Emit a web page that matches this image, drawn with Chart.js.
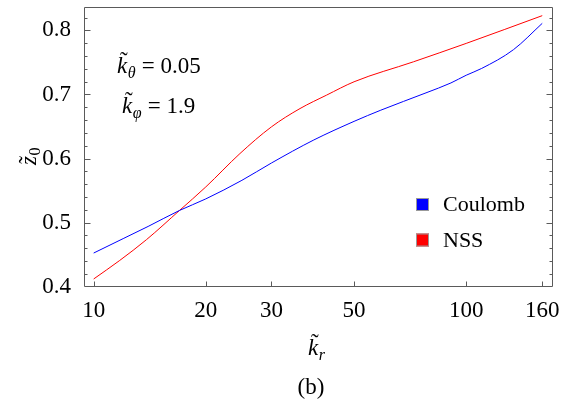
<!DOCTYPE html>
<html><head><meta charset="utf-8">
<script src="https://cdn.jsdelivr.net/npm/chart.js@4/dist/chart.umd.min.js"></script>
<style>html,body{margin:0;padding:0;background:#fff}#wrap{width:571px;height:408px;position:relative}</style>
</head><body><div id="wrap"><canvas id="c" width="571" height="408"></canvas></div>
<script>
const seriesNames = ["Coulomb", "NSS"];
const coulombK = [10, 12, 14, 17, 20, 25, 30, 39, 50, 59, 78, 91, 100, 110, 134, 160];
const coulombZ = [0.4525, 0.475, 0.494, 0.519, 0.537, 0.566, 0.593, 0.629, 0.658, 0.6755, 0.7025, 0.718, 0.730, 0.7406, 0.770, 0.811];
const nssK = [10, 11.75, 13.86, 17, 20, 24.7, 30, 35.8, 42.2, 50, 72.2, 100, 160];
const nssZ = [0.412, 0.441, 0.4734, 0.519, 0.5557, 0.6078, 0.6494, 0.678, 0.699, 0.7198, 0.751, 0.7797, 0.823];
const xTickValues = [10, 20, 30, 50, 100, 160];
const yTickValues = [0.4, 0.5, 0.6, 0.7, 0.8];
const annoTheta = "0.05";
const annoPhi = "1.9";

const SERIF = "'Liberation Serif', serif";

function pts(xs, ys){ return xs.map((x,i)=>({x:x, y:ys[i]})); }

function drawSym(ctx, x, y, main, sub, size){
  ctx.save();
  ctx.textBaseline = 'alphabetic';
  ctx.textAlign = 'left';
  ctx.font = 'italic ' + size + 'px ' + SERIF;
  ctx.fillText(main, x, y);
  const w = ctx.measureText(main).width;
  ctx.font = size + 'px ' + SERIF;
  ctx.fillText('\u02DC', x + w*0.3, y - size*0.2);
  let end = x + w;
  if (sub){
    ctx.font = 'italic ' + Math.round(size*0.68) + 'px ' + SERIF;
    ctx.fillText(sub, end + 0.5, y + size*0.22);
    end += ctx.measureText(sub).width + 1;
  }
  ctx.restore();
  return end;
}

const framePlugin = {
  id: 'frame',
  afterDraw(chart){
    const ctx = chart.ctx, a = chart.chartArea;
    const xs = chart.scales.x, ys = chart.scales.y;
    ctx.save();
    ctx.strokeStyle = '#5a5a5a';
    ctx.lineWidth = 1;
    ctx.beginPath();
    const L = Math.round(a.left)+0.5, R = Math.round(a.right)-0.5, T = Math.round(a.top)+0.5, B = Math.round(a.bottom)-0.5;
    ctx.rect(L, T, R-L, B-T);
    for (let i = 0; i <= 22; i++){
      const v = 0.40 + i*0.02;
      const py = Math.round(ys.getPixelForValue(v)) + 0.5;
      if (py < T - 0.1 || py > B + 0.6) continue;
      const major = (i % 5 === 0);
      const len = major ? 6 : 3;
      ctx.moveTo(L, py); ctx.lineTo(L+len, py);
      ctx.moveTo(R, py); ctx.lineTo(R-len, py);
    }
    xTickValues.forEach(v=>{
      const px = Math.round(xs.getPixelForValue(v)) + 0.5;
      ctx.moveTo(px, B); ctx.lineTo(px, B-5);
    });
    ctx.stroke();

    ctx.font = '22px ' + SERIF;
    ctx.textBaseline = 'middle';
    ctx.textAlign = 'left';
    chart.data.datasets.forEach((ds, i)=>{
      const cy = 204.5 + i*35.5;
      ctx.fillStyle = ds.borderColor;
      ctx.fillRect(416, cy-6.5, 13, 13);
      ctx.strokeStyle = '#999';
      ctx.strokeRect(416.5, cy-6, 12, 12);
      ctx.fillStyle = '#000';
      ctx.fillText(ds.label, 443, cy+1);
    });

    ctx.fillStyle = '#000';
    let e = drawSym(ctx, 117, 73, 'k', '\u03B8', 23);
    ctx.font = '23px ' + SERIF; ctx.textBaseline = 'alphabetic'; ctx.textAlign = 'left';
    ctx.fillText(' = ' + annoTheta, e, 73);
    e = drawSym(ctx, 122, 112.5, 'k', '\u03C6', 23);
    ctx.font = '23px ' + SERIF;
    ctx.fillText(' = ' + annoPhi, e, 112.5);

    drawSym(ctx, 308, 355, 'k', 'r', 23);
    ctx.font = '23px ' + SERIF;
    ctx.textAlign = 'center';
    ctx.textBaseline = 'alphabetic';
    ctx.fillText('(b)', 311, 394);
    ctx.save();
    ctx.translate(36, 165);
    ctx.rotate(-Math.PI/2);
    ctx.textAlign = 'left';
    ctx.font = 'italic 23px ' + SERIF;
    ctx.fillText('z', 0, 0);
    const zw = ctx.measureText('z').width;
    ctx.font = '23px ' + SERIF;
    ctx.fillText('\u02DC', zw*0.15, -1);
    ctx.font = '16px ' + SERIF;
    ctx.fillText('0', zw + 0.5, 4);
    ctx.restore();
    ctx.restore();
  }
};

function zeroPad(s){ s.paddingTop = 0; s.paddingBottom = 0; s.paddingLeft = 0; s.paddingRight = 0; }

new Chart(document.getElementById('c'), {
  type: 'line',
  data: {
    datasets: [
      { label: seriesNames[0], data: pts(coulombK, coulombZ), borderColor: 'rgb(0,0,255)', backgroundColor: 'rgb(0,0,255)', borderWidth: 1, pointRadius: 0, cubicInterpolationMode: 'monotone', fill: false },
      { label: seriesNames[1], data: pts(nssK, nssZ), borderColor: 'rgb(255,0,0)', backgroundColor: 'rgb(255,0,0)', borderWidth: 1, pointRadius: 0, cubicInterpolationMode: 'monotone', fill: false }
    ]
  },
  options: {
    responsive: false,
    animation: false,
    events: [],
    layout: { padding: { top: 7, right: 18, left: 0, bottom: 0 } },
    plugins: { legend: { display: false }, tooltip: { enabled: false }, title: { display: false } },
    scales: {
      x: {
        type: 'logarithmic',
        min: 9.42, max: 171,
        grid: { display: false },
        border: { display: false },
        afterBuildTicks(s){ s.ticks = xTickValues.map(v=>({value:v})); },
        afterFit(s){ s.height = 121; zeroPad(s); },
        ticks: { autoSkip: false, maxRotation: 0, padding: 2, color: '#000', font: { family: SERIF, size: 23 }, callback: (v)=>String(v) }
      },
      y: {
        type: 'linear',
        min: 0.3995, max: 0.8365,
        grid: { display: false },
        border: { display: false },
        afterBuildTicks(s){ s.ticks = yTickValues.map(v=>({value:v})); },
        afterFit(s){ s.width = 84; zeroPad(s); },
        ticks: { padding: 5, color: '#000', font: { family: SERIF, size: 23 }, callback: (v)=>v.toFixed(1) }
      }
    }
  },
  plugins: [framePlugin]
});
</script></body></html>
